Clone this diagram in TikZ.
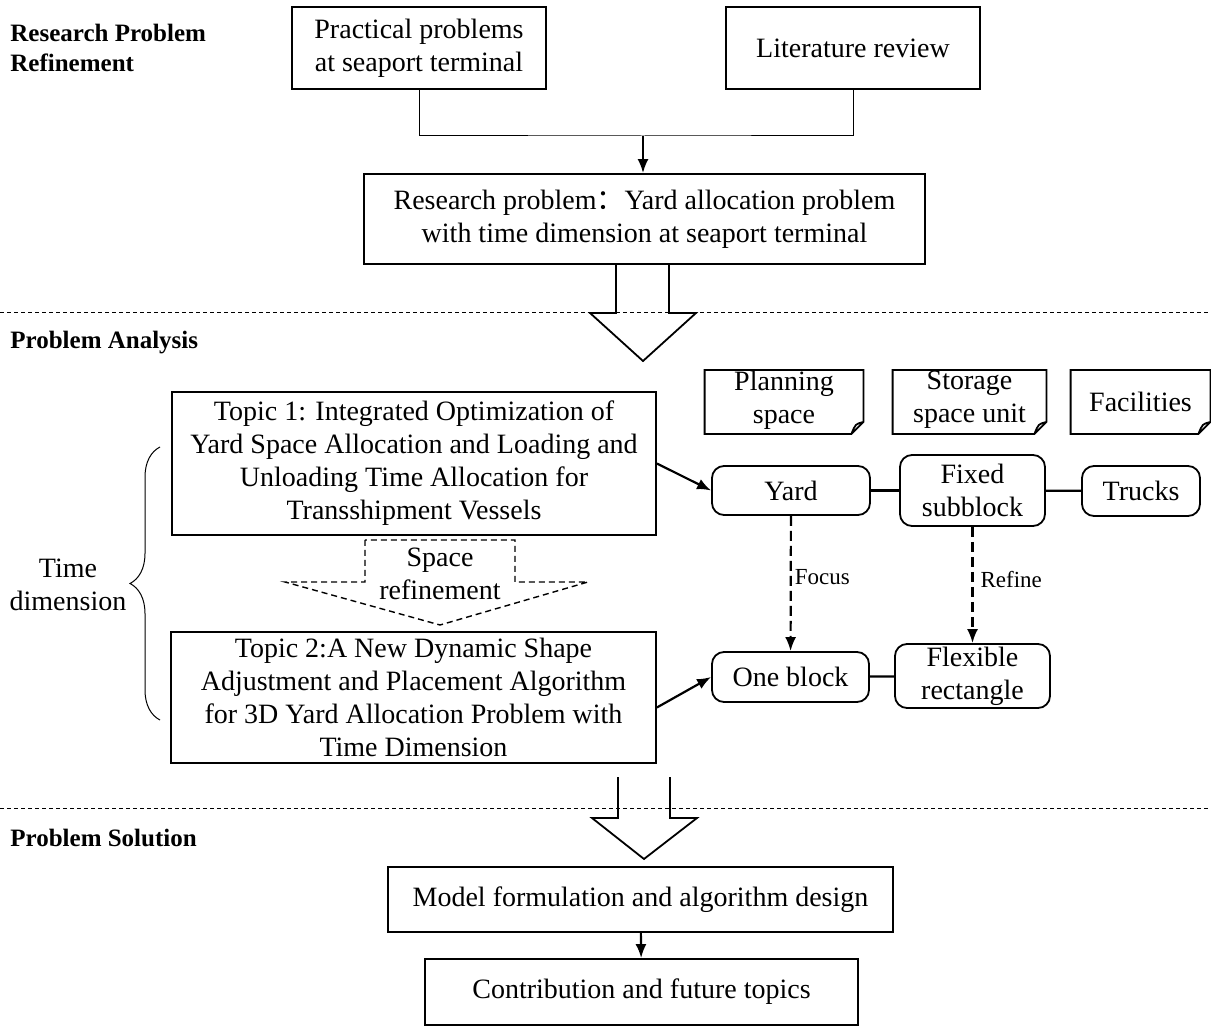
\documentclass[tikz,border=0pt]{standalone}
\usepackage{fontspec}
\setmainfont{Liberation Serif}
\newfontfamily\cjk{Noto Sans CJK SC}
\usepackage{tikz}
\usetikzlibrary{arrows.meta}
\usetikzlibrary{decorations.pathreplacing}

\begin{document}
\begin{tikzpicture}[x=0.5pt,y=-0.5pt,>={Latex[length=7pt,width=5.5pt]},
  box/.style={draw,line width=0.9pt,inner sep=0pt,align=center,font=\fontsize{14}{16.5}\selectfont},
  rbox/.style={box,rounded corners=6pt},
  notebox/.style={inner sep=0pt,align=center,font=\fontsize{14}{16.5}\selectfont},
  secname/.style={anchor=west,align=left,inner sep=0pt,font=\fontsize{12.5}{15}\selectfont\bfseries},
  sepline/.style={line width=0.5pt,dash pattern=on 2pt off 1.5pt},
  link/.style={line width=1.1pt},
  focuslink/.style={link,->,dash pattern=on 5pt off 2.5pt},
  bigarrow/.style={line width=0.9pt,line join=miter}]
  % Boundary
  \path[use as bounding box] (0,0) rectangle (1211,1026);
  % Section names
  \node[secname] (sec1) at (10,48) {Research Problem\\Refinement};
  \node[secname] (sec2) at (10,343) {Problem Analysis};
  \node[secname] (sec3) at (10,838) {Problem Solution};
  \draw[sepline] (0,313) -- (1211,313);
  \draw[sepline] (0,808) -- (1211,808);
  % Research problem refinement
  \node[box,minimum width=127pt,minimum height=41pt] (prac) at (419,48) {Practical problems\\at seaport terminal};
  \node[box,minimum width=127pt,minimum height=41pt] (lit) at (853,48) {Literature review};
  \node[box,minimum width=280.5pt,minimum height=45pt] (rp) at (644.5,219)
    {Research problem{\cjk ：}Yard allocation problem\\with time dimension at seaport terminal};
  \coordinate (join) at (643,136);
  \draw[line width=0.5pt] (prac.south) |- (join) -| (lit.south);
  \draw[link,->] (join) -- (join |- rp.north);
  \draw[bigarrow] (616,264) -- (616,313) -- (590,313) -- (643,361) -- (696,313) -- (669,313) -- (669,264);
  % Problem analysis
  \node[box,minimum width=242pt,minimum height=71.5pt] (topic1) at (414,463.5)
    {Topic 1: Integrated Optimization of\\Yard Space Allocation and Loading and\\Unloading Time Allocation for\\Transshipment Vessels};
  \node[box,minimum width=242.5pt,minimum height=65.5pt] (topic2) at (413.5,697.5)
    {Topic 2:A New Dynamic Shape\\Adjustment and Placement Algorithm\\for 3D Yard Allocation Problem with\\Time Dimension};
  \draw[line width=0.7pt,dash pattern=on 3pt off 2pt,line join=miter]
    (365,540) -- (365,582) -- (285,582) -- (440,625) -- (588,582) -- (515,582) -- (515,540) -- cycle;
  \node[notebox] (spref) at (440,574) {Space\\refinement};
  \draw[line width=0.5pt,decorate,decoration={brace,amplitude=15pt}] (160,720) -- (160,447);
  \node[notebox] (timedim) at (68,585) {Time\\dimension};
  % Notes
  \node[notebox,minimum width=79pt,minimum height=32pt] (plan) at (784,400) {Planning\\space};
  \node[notebox,minimum width=76.5pt,minimum height=32pt] (store) at (969.5,400) {Storage\\space unit};
  \node[notebox,minimum width=69.5pt,minimum height=32pt] (facil) at (1140.5,402) {Facilities};
  \foreach \n in {plan,store,facil}
    \draw[line width=0.9pt] (\n.north west |- 0,370) -- (\n.north east |- 0,370) -- ([yshift=6pt]\n.east |- 0,434)
      -- ([xshift=-6pt]\n.east |- 0,434) -- (\n.west |- 0,434) -- cycle
      ([xshift=-6pt]\n.east |- 0,434) .. controls ([xshift=-4pt,yshift=5pt]\n.east |- 0,434) .. ([yshift=6pt]\n.east |- 0,434);
  % Yard elements
  \node[rbox,minimum width=79pt,minimum height=24.5pt] (yard) at (791,490.5) {Yard};
  \node[rbox,minimum width=72.5pt,minimum height=35.5pt] (fixed) at (972.5,490.5) {Fixed\\subblock};
  \node[rbox,minimum width=59pt,minimum height=25pt] (trucks) at (1141,491) {Trucks};
  \node[rbox,minimum width=78.5pt,minimum height=25pt] (oneblk) at (790.5,677) {One block};
  \node[rbox,minimum width=77.5pt,minimum height=32pt] (flex) at (972.5,676) {Flexible\\rectangle};
  \draw[link] (yard) -- (fixed);
  \draw[link] (fixed) -- (trucks);
  \draw[link] (oneblk) -- (flex);
  \draw[focuslink] (yard) -- node[pos=0.45,right,inner sep=1.5pt,font=\fontsize{11.5}{13}\selectfont] {Focus} (oneblk);
  \draw[focuslink] (fixed) -- node[pos=0.45,right,inner sep=3.5pt,font=\fontsize{11.5}{13}\selectfont] {Refine} (flex);
  \draw[link,->] (topic1.east) -- (yard.west);
  \draw[link,->] ([yshift=-5pt]topic2.east) -- (oneblk.west);
  % Problem solution
  \draw[bigarrow] (618,777) -- (618,818) -- (592,818) -- (644,859) -- (697,818) -- (670,818) -- (670,777);
  \node[box,minimum width=252.5pt,minimum height=32.5pt] (model) at (640.5,899.5) {Model formulation and algorithm design};
  \node[box,minimum width=216.5pt,minimum height=33pt] (contrib) at (641.5,992) {Contribution and future topics};
  \draw[link,->] (model) -- (contrib);
\end{tikzpicture}
\end{document}
